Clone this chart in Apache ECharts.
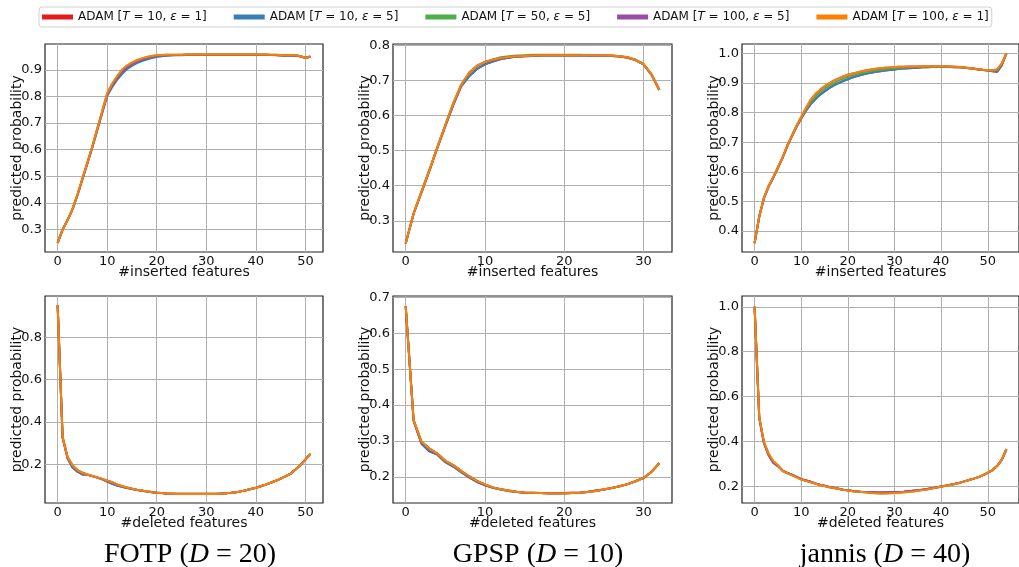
<!DOCTYPE html>
<html>
<head>
<meta charset="utf-8">
<script src="https://cdn.jsdelivr.net/npm/echarts@6/dist/echarts.min.js"></script>
<style>
html,body{margin:0;padding:0;background:#fff;}
#chart{width:1019px;height:567px;}
</style>
</head>
<body>
<div id="chart"></div>
<script>
// ---------- legend / series meta ----------
const seriesNames = ['ADAM [T=10, ε=1]','ADAM [T=10, ε=5]','ADAM [T=50, ε=5]','ADAM [T=100, ε=5]','ADAM [T=100, ε=1]'];
const legendT = [10, 10, 50, 100, 100];
const legendEps = [1, 5, 5, 5, 1];
const seriesColors = ['#e41a1c','#377eb8','#4daf4a','#984ea3','#ff7f00'];

// ---------- titles / axis names ----------
const datasetTitles = ['FOTP', 'GPSP', 'jannis'];
const datasetD = [20, 10, 40];
const insertName = '#inserted features';
const deleteName = '#deleted features';
const yName = 'predicted probability';

// ---------- tick labels ----------
const xTicksFOTP = [0, 10, 20, 30, 40, 50];
const xTicksGPSP = [0, 10, 20, 30];
const xTicksJannis = [0, 10, 20, 30, 40, 50];
const yTicksFotpIns = [0.3, 0.4, 0.5, 0.6, 0.7, 0.8, 0.9];
const yTicksGpspIns = [0.3, 0.4, 0.5, 0.6, 0.7, 0.8];
const yTicksJannisIns = [0.4, 0.5, 0.6, 0.7, 0.8, 0.9, 1.0];
const yTicksFotpDel = [0.2, 0.4, 0.6, 0.8];
const yTicksGpspDel = [0.2, 0.3, 0.4, 0.5, 0.6, 0.7];
const yTicksJannisDel = [0.2, 0.4, 0.6, 0.8, 1.0];

// ---------- FOTP insertion (x = 0..51) ----------
const fotpInsTop = [
 0.25,0.30,0.335,0.378,0.432,0.492,0.552,0.612,0.68,0.745,
 0.812,0.848,0.876,0.9,0.916,0.927,0.936,0.943,0.948,0.952,
 0.955,0.956,0.957,0.957,0.957,0.957,0.958,0.958,0.958,0.958,
 0.958,0.958,0.958,0.958,0.958,0.958,0.958,0.958,0.958,0.958,
 0.958,0.958,0.958,0.957,0.957,0.956,0.955,0.955,0.955,0.952,
 0.945,0.95];
const fotpInsMid = [
 0.25,0.30,0.336,0.377,0.43,0.49,0.55,0.61,0.677,0.741,
 0.806,0.842,0.87,0.893,0.91,0.922,0.931,0.939,0.945,0.949,
 0.952,0.954,0.955,0.956,0.956,0.956,0.957,0.957,0.957,0.957,
 0.957,0.957,0.957,0.957,0.957,0.957,0.957,0.957,0.957,0.957,
 0.957,0.957,0.957,0.956,0.956,0.955,0.954,0.954,0.954,0.951,
 0.945,0.95];
const fotpInsLow = [
 0.25,0.30,0.335,0.375,0.428,0.488,0.548,0.608,0.672,0.738,
 0.802,0.835,0.862,0.884,0.902,0.915,0.925,0.933,0.939,0.944,
 0.948,0.951,0.953,0.954,0.955,0.955,0.956,0.956,0.956,0.956,
 0.956,0.956,0.956,0.956,0.956,0.956,0.956,0.956,0.956,0.956,
 0.956,0.956,0.956,0.956,0.955,0.954,0.953,0.953,0.953,0.95,
 0.944,0.949];

// ---------- GPSP insertion (x = 0..32) ----------
const gpspInsTop = [
 0.235,0.321,0.383,0.445,0.51,0.573,0.635,0.688,0.722,0.742,
 0.753,0.759,0.764,0.767,0.769,0.770,0.771,0.772,0.772,0.772,
 0.772,0.772,0.772,0.772,0.771,0.771,0.771,0.769,0.766,0.759,
 0.747,0.718,0.673];
const gpspInsHigh = [
 0.235,0.321,0.383,0.445,0.51,0.573,0.634,0.686,0.72,0.741,
 0.753,0.760,0.766,0.769,0.771,0.772,0.773,0.773,0.773,0.773,
 0.773,0.773,0.773,0.772,0.772,0.772,0.771,0.769,0.766,0.759,
 0.747,0.718,0.673];
const gpspInsLow = [
 0.235,0.320,0.381,0.443,0.508,0.570,0.630,0.683,0.712,0.733,
 0.746,0.754,0.761,0.765,0.768,0.769,0.770,0.771,0.771,0.771,
 0.771,0.771,0.771,0.771,0.770,0.770,0.770,0.768,0.765,0.758,
 0.746,0.717,0.673];

// ---------- jannis insertion (x = 0..54) ----------
const jannisInsTop = [
 0.359,0.45,0.512,0.551,0.582,0.615,0.649,0.688,0.722,0.756,
 0.785,0.815,0.843,0.862,0.877,0.889,0.899,0.908,0.916,0.922,
 0.928,0.932,0.936,0.94,0.943,0.946,0.948,0.95,0.952,0.953,
 0.954,0.955,0.955,0.956,0.956,0.956,0.957,0.957,0.957,0.957,
 0.957,0.957,0.956,0.955,0.954,0.953,0.951,0.949,0.947,0.945,
 0.944,0.943,0.946,0.966,1.0];
const jannisInsMid = [
 0.359,0.45,0.512,0.551,0.582,0.615,0.649,0.688,0.722,0.755,
 0.783,0.81,0.836,0.854,0.869,0.881,0.891,0.9,0.908,0.915,
 0.921,0.926,0.93,0.934,0.937,0.94,0.943,0.945,0.947,0.949,
 0.95,0.951,0.952,0.953,0.954,0.954,0.955,0.955,0.955,0.955,
 0.955,0.955,0.955,0.954,0.953,0.952,0.95,0.948,0.946,0.944,
 0.943,0.942,0.944,0.964,1.0];
const jannisInsLow = [
 0.359,0.448,0.51,0.55,0.58,0.613,0.647,0.686,0.72,0.752,
 0.78,0.806,0.828,0.845,0.86,0.872,0.883,0.892,0.9,0.907,
 0.913,0.919,0.924,0.928,0.932,0.935,0.938,0.94,0.942,0.944,
 0.946,0.948,0.949,0.95,0.951,0.952,0.953,0.953,0.954,0.954,
 0.954,0.954,0.954,0.953,0.953,0.952,0.95,0.948,0.946,0.944,
 0.942,0.94,0.938,0.96,1.0];

// ---------- FOTP deletion (x = 0..51) ----------
const fotpDelTop = [
 0.953,0.33,0.235,0.195,0.173,0.16,0.152,0.145,0.138,0.131,
 0.123,0.115,0.105,0.097,0.09,0.085,0.08,0.076,0.072,0.069,
 0.066,0.064,0.062,0.061,0.06,0.06,0.06,0.06,0.06,0.06,
 0.06,0.06,0.06,0.061,0.063,0.065,0.068,0.072,0.077,0.083,
 0.089,0.096,0.104,0.113,0.122,0.132,0.143,0.156,0.175,0.197,
 0.222,0.25];
const fotpDelLow = [
 0.953,0.325,0.228,0.185,0.165,0.152,0.15,0.144,0.137,0.129,
 0.118,0.108,0.1,0.094,0.088,0.083,0.079,0.075,0.071,0.068,
 0.066,0.064,0.062,0.061,0.061,0.061,0.061,0.061,0.061,0.061,
 0.061,0.061,0.061,0.062,0.063,0.065,0.068,0.072,0.077,0.083,
 0.089,0.096,0.104,0.113,0.122,0.132,0.143,0.156,0.175,0.197,
 0.222,0.25];

// ---------- GPSP deletion (x = 0..32) ----------
const gpspDelTop = [
 0.675,0.358,0.298,0.279,0.265,0.245,0.233,0.217,0.202,0.189,
 0.179,0.171,0.166,0.162,0.159,0.157,0.156,0.155,0.154,0.154,
 0.154,0.155,0.156,0.158,0.161,0.165,0.169,0.174,0.18,0.188,
 0.197,0.214,0.238];
const gpspDelLow = [
 0.675,0.356,0.292,0.271,0.262,0.241,0.229,0.213,0.199,0.186,
 0.177,0.170,0.165,0.161,0.158,0.156,0.155,0.155,0.155,0.155,
 0.155,0.156,0.157,0.159,0.162,0.165,0.169,0.174,0.18,0.188,
 0.197,0.214,0.238];

// ---------- jannis deletion (x = 0..54) ----------
const jannisDelTop = [
 1.0,0.509,0.398,0.346,0.313,0.294,0.268,0.258,0.25,0.24,
 0.23,0.224,0.218,0.212,0.206,0.201,0.196,0.192,0.188,0.184,
 0.181,0.178,0.176,0.174,0.172,0.17,0.169,0.168,0.168,0.169,
 0.17,0.171,0.173,0.175,0.177,0.18,0.183,0.186,0.19,0.194,
 0.198,0.202,0.206,0.21,0.215,0.222,0.228,0.234,0.241,0.25,
 0.26,0.272,0.29,0.318,0.365];
const jannisDelLow = [
 1.0,0.505,0.393,0.34,0.305,0.29,0.27,0.26,0.252,0.242,
 0.232,0.226,0.22,0.213,0.207,0.202,0.197,0.193,0.189,0.185,
 0.182,0.179,0.177,0.175,0.174,0.173,0.172,0.172,0.172,0.173,
 0.174,0.175,0.176,0.178,0.18,0.182,0.185,0.188,0.191,0.195,
 0.199,0.203,0.207,0.211,0.216,0.222,0.228,0.234,0.241,0.25,
 0.26,0.272,0.29,0.318,0.365];

// series order: red, blue, green, purple, orange
const panels = [
  {grid:[45,44,278,208],  xr:[-2.55,53.55], yr:[0.216,0.997], xt:xTicksFOTP,   yt:yTicksFotpIns,   xn:insertName, s:[fotpInsMid, fotpInsLow, fotpInsTop, fotpInsMid, fotpInsTop]},
  {grid:[393,44,279,208], xr:[-1.6,33.6],   yr:[0.211,0.804], xt:xTicksGPSP,   yt:yTicksGpspIns,   xn:insertName, s:[gpspInsLow, gpspInsLow, gpspInsHigh, gpspInsTop, gpspInsTop]},
  {grid:[742,44,279,208], xr:[-2.7,56.7],   yr:[0.329,1.032], xt:xTicksJannis, yt:yTicksJannisIns, xn:insertName, s:[jannisInsLow, jannisInsLow, jannisInsMid, jannisInsTop, jannisInsTop]},
  {grid:[45,296,278,207], xr:[-2.55,53.55], yr:[0.017,0.996], xt:xTicksFOTP,   yt:yTicksFotpDel,   xn:deleteName, s:[fotpDelLow, fotpDelLow, fotpDelTop, fotpDelTop, fotpDelTop]},
  {grid:[393,296,279,207],xr:[-1.6,33.6],   yr:[0.1275,0.7036],xt:xTicksGPSP,  yt:yTicksGpspDel,   xn:deleteName, s:[gpspDelLow, gpspDelLow, gpspDelTop, gpspDelTop, gpspDelTop]},
  {grid:[742,296,279,207],xr:[-2.7,56.7],   yr:[0.1255,1.048],xt:xTicksJannis, yt:yTicksJannisDel, xn:deleteName, s:[jannisDelLow, jannisDelLow, jannisDelTop, jannisDelLow, jannisDelTop]}
];

const FONT = 'DejaVu Sans';
const labelStyle = {fontFamily: FONT, fontSize: 13, color: '#111'};
const gridLine = {show: true, lineStyle: {color: '#b0b0b0', width: 1}};

const grids = [], xAxes = [], yAxes = [], series = [];
panels.forEach((p, i) => {
  grids.push({left: p.grid[0], top: p.grid[1], width: p.grid[2], height: p.grid[3],
    show: true, borderColor: '#222', borderWidth: 1.2, backgroundColor: 'transparent', containLabel: false});
  xAxes.push({type: 'value', gridIndex: i, min: p.xr[0], max: p.xr[1],
    name: p.xn, nameLocation: 'middle', nameGap: 13, nameMoveOverlap: false,
    nameTextStyle: {fontFamily: FONT, fontSize: 14, color: '#111'},
    axisLine: {show: false}, axisTick: {show: false, customValues: p.xt},
    axisLabel: {customValues: p.xt, margin: 3, ...labelStyle, formatter: v => String(v)},
    splitLine: gridLine});
  yAxes.push({type: 'value', gridIndex: i, min: p.yr[0], max: p.yr[1],
    name: yName, nameLocation: 'middle', nameGap: 21, nameMoveOverlap: false,
    nameTextStyle: {fontFamily: FONT, fontSize: 14, color: '#111'},
    axisLine: {show: false}, axisTick: {show: false, customValues: p.yt},
    axisLabel: {customValues: p.yt, margin: 3, ...labelStyle, formatter: v => v.toFixed(1)},
    splitLine: gridLine});
  p.s.forEach((arr, k) => {
    series.push({type: 'line', name: seriesNames[k], xAxisIndex: i, yAxisIndex: i,
      data: arr.map((v, x) => [x, v]), showSymbol: false, symbol: 'none',
      lineStyle: {color: seriesColors[k], width: 2}, itemStyle: {color: seriesColors[k]},
      animation: false, clip: true, z: 2 + k});
  });
});

const titles = datasetTitles.map((t, i) => ({
  text: '{n|' + t + ' (}{i|D}{n| = ' + datasetD[i] + ')}',
  left: [185, 533, 880][i], top: 536, textAlign: 'center',
  textStyle: {fontWeight: 'normal', fontFamily: 'Liberation Serif', fontSize: 28, rich: {
    n: {fontFamily: 'Liberation Serif', fontSize: 28, fontWeight: 'normal', color: '#000'},
    i: {fontFamily: 'Liberation Serif', fontSize: 28, fontWeight: 'normal', fontStyle: 'italic', color: '#000'}
  }}
}));

const chart = echarts.init(document.getElementById('chart'), null, {renderer: 'canvas'});
chart.setOption({
  animation: false,
  backgroundColor: '#fff',
  title: titles,
  legend: {
    data: seriesNames, left: 39, top: 7, width: 970, padding: [4, 3, 4, 3],
    itemWidth: 31, itemHeight: 5, itemGap: 27, icon: 'rect',
    borderColor: '#d0d0d0', borderWidth: 1, borderRadius: 3,
    formatter: name => {
      const k = seriesNames.indexOf(name);
      return '{n|ADAM [}{i|T}{n| = ' + legendT[k] + ', }{i|ε}{n| = ' + legendEps[k] + ']}';
    },
    textStyle: {fontFamily: FONT, fontSize: 12, color: '#111', rich: {
      n: {fontFamily: FONT, fontSize: 12, color: '#111'},
      i: {fontFamily: FONT, fontSize: 12, fontStyle: 'italic', color: '#111'}
    }}
  },
  grid: grids, xAxis: xAxes, yAxis: yAxes, series: series
});
</script>
</body>
</html>
